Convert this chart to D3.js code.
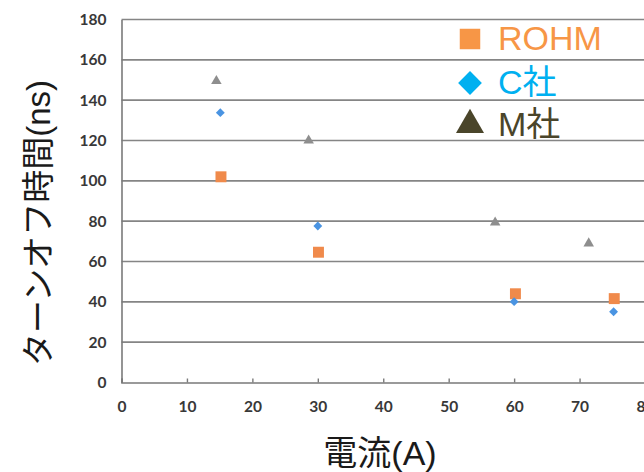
<!DOCTYPE html>
<html>
<head>
<meta charset="utf-8">
<script src="https://cdn.jsdelivr.net/npm/d3@7"></script>
<style>
  html, body { margin: 0; padding: 0; background: #fff; }
  svg { display: block; }
</style>
</head>
<body>
<svg id="chart" width="644" height="472"></svg>
<script>
// Turn-off time vs. current, three manufacturers
const seriesNames = ["ROHM", "C社", "M社"];
const rohmCurrent = [15.2, 30.1, 60.2, 75.3];
const rohmTime    = [102, 64.6, 44, 41.6];
const cCurrent    = [15.1, 30.0, 60.0, 75.2];
const cTime       = [133.8, 77.6, 40.1, 35.1];
const mCurrent    = [14.5, 28.6, 57.1, 71.4];
const mTime       = [149.5, 120, 79.3, 69];
const xTicks = [0, 10, 20, 30, 40, 50, 60, 70, 80];
const yTicks = [0, 20, 40, 60, 80, 100, 120, 140, 160, 180];
const xTitle = "電流(A)";
const yTitle = "ターンオフ時間(ns)";

const svg = d3.select("#chart");
const x = d3.scaleLinear().domain([0, 80]).range([121.5, 645]);
const y = d3.scaleLinear().domain([0, 180]).range([382.5, 19.5]);

const tickFont = "Lato, 'Open Sans', sans-serif";
const cjkFont = "'Liberation Sans', 'Noto Sans CJK JP', sans-serif";

// horizontal gridlines
svg.append("g")
  .selectAll("line")
  .data(yTicks.filter(d => d > 0))
  .join("line")
  .attr("x1", x(0)).attr("x2", 644)
  .attr("y1", d => y(d)).attr("y2", d => y(d))
  .attr("stroke", "#858585")
  .attr("stroke-width", 1.6);

// y axis
const yAxis = svg.append("g")
  .attr("transform", `translate(${x(0)},0)`)
  .call(d3.axisLeft(y).tickValues(yTicks).tickSize(0).tickPadding(15).tickFormat(d3.format("d")));
yAxis.select(".domain").attr("stroke", "#7a7a7a").attr("stroke-width", 1.6);
yAxis.selectAll("text")
  .attr("font-family", tickFont).attr("font-weight", "bold")
  .attr("font-size", 15.5).attr("fill", "#383838");

// x axis with small inward ticks
const xAxis = svg.append("g")
  .attr("transform", `translate(0,${y(0)})`)
  .call(d3.axisBottom(x).tickValues(xTicks).tickSize(-4).tickPadding(18).tickFormat(d3.format("d")));
xAxis.select(".domain").attr("stroke", "#7a7a7a").attr("stroke-width", 1.6);
xAxis.selectAll(".tick line").attr("stroke", "#7a7a7a").attr("stroke-width", 1.4);
xAxis.selectAll("text")
  .attr("font-family", tickFont).attr("font-weight", "bold")
  .attr("font-size", 15.5).attr("fill", "#383838");

// data markers
const series = [
  { name: seriesNames[0], xs: rohmCurrent, ys: rohmTime, shape: d3.symbolSquare,   size: 120, color: "#F08A4B" },
  { name: seriesNames[1], xs: cCurrent,    ys: cTime,    shape: d3.symbolDiamond2, size: 50,  color: "#4A94E2" },
  { name: seriesNames[2], xs: mCurrent,    ys: mTime,    shape: d3.symbolTriangle, size: 48,  color: "#8E8E8E" }
];
series.forEach(s => {
  svg.append("g")
    .selectAll("path")
    .data(s.xs.map((v, i) => [v, s.ys[i]]))
    .join("path")
    .attr("d", d3.symbol().type(s.shape).size(s.size))
    .attr("transform", d => `translate(${x(d[0])},${y(d[1])})`)
    .attr("fill", s.color);
});

// legend
const legend = [
  { name: seriesNames[0], shape: d3.symbolSquare,   size: 420, color: "#F79646", cy: 39 },
  { name: seriesNames[1], shape: d3.symbolDiamond2, size: 360, color: "#00B0F0", cy: 83 },
  { name: seriesNames[2], shape: d3.symbolTriangle, size: 340, color: "#4A452A", cy: 125 }
];
const lg = svg.append("g");
lg.selectAll("path")
  .data(legend)
  .join("path")
  .attr("d", d => d3.symbol().type(d.shape).size(d.size)())
  .attr("transform", d => `translate(470,${d.cy})`)
  .attr("fill", d => d.color);
lg.selectAll("text")
  .data(legend)
  .join("text")
  .attr("x", 498)
  .attr("y", d => d.cy + 11)
  .attr("font-family", cjkFont)
  .attr("font-size", 34)
  .attr("fill", d => d.color)
  .text(d => d.name);

// axis titles
svg.append("text")
  .attr("x", 380).attr("y", 465)
  .attr("text-anchor", "middle")
  .attr("font-family", cjkFont)
  .attr("font-size", 34)
  .attr("fill", "#1a1a1a")
  .text(xTitle);

svg.append("text")
  .attr("transform", "translate(50,223) rotate(-90)")
  .attr("text-anchor", "middle")
  .attr("font-family", cjkFont)
  .attr("font-size", 33)
  .attr("fill", "#1a1a1a")
  .text(yTitle);
</script>
</body>
</html>
